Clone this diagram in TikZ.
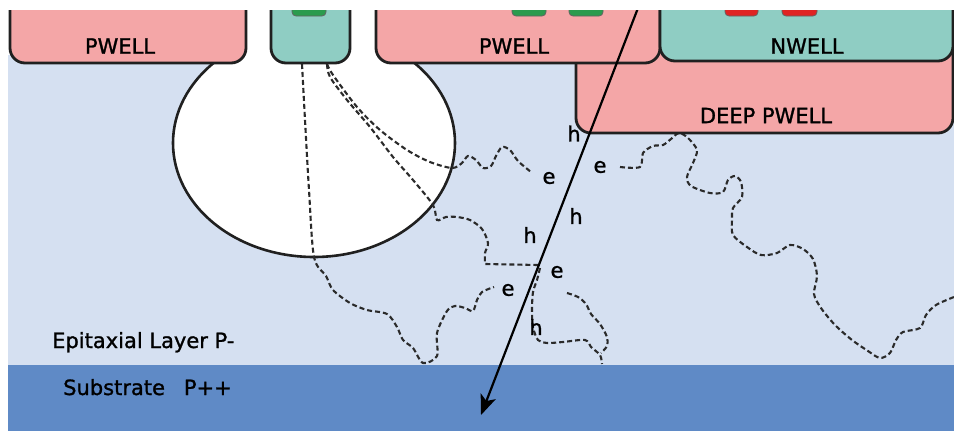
\documentclass[tikz,border=0pt]{standalone}
\usepackage{fontspec}
\setmainfont[FakeBold=1.2]{DejaVu Sans}
\usetikzlibrary{arrows.meta}

\definecolor{epiblue}{HTML}{D5E0F1}
\definecolor{subblue}{HTML}{5F8AC6}
\definecolor{wellpink}{HTML}{F4A6A7}
\definecolor{wellteal}{HTML}{8FCDC3}
\definecolor{contgreen}{HTML}{2B9B4E}
\definecolor{contred}{HTML}{DF2323}
\definecolor{edgegray}{HTML}{202020}
\definecolor{pathgray}{HTML}{2A2A2A}

\tikzset{
  well/.style={draw=edgegray, line width=2.8pt, rounded corners=15pt},
  contact/.style={draw=edgegray!70, line width=0.8pt, rounded corners=4pt},
  drift/.style={draw=pathgray, line width=2.1pt, dash pattern=on 5pt off 3pt},
  lbl/.style={inner sep=0pt, font=\fontsize{21}{25}\selectfont, text=black},
  carrier/.style={inner sep=0pt, font=\fontsize{21}{25}\selectfont, text=black},
}

\begin{document}
\begin{tikzpicture}[x=1pt, y=-1pt]
\useasboundingbox (0,0) rectangle (954,431);

\begin{scope}
\clip (0,10) rectangle (954,431);

% epitaxial layer and substrate
\fill[epiblue] (8,55) rectangle (954,365);
\fill[subblue] (8,365) rectangle (954,431);

% depletion region of the collecting diode
\draw[draw=edgegray, line width=2.6pt, fill=white] (314,143) ellipse [x radius=141, y radius=114];
\fill[white] (246,0) rectangle (376,63);

% charge drift / diffusion paths
\draw[drift] plot[smooth, tension=0.5] coordinates {
  (302,64) (305,120) (309,190) (314,257) (326,276) (333,290) (350,303)
  (367,310) (387,314) (397,327) (403,340) (413,348) (423,363) (437,356)
  (437,333) (447,311) (455,306) (465,308) (473,311) (477,300) (482,292) (494,287)};
\draw[drift] plot[smooth, tension=0.5] coordinates {
  (327,64) (333,75) (357,107) (380,130) (407,150) (430,162) (452,168)
  (462,163) (468,156) (476,160) (483,168) (491,166) (496,156) (502,147)
  (510,150) (518,161) (531,172)};
\draw[drift] plot[smooth, tension=0.5] coordinates {
  (327,64) (330,77) (347,100) (370,127) (393,157) (413,180) (433,205)
  (437,220) (446,217) (457,217) (470,220) (482,229) (488,243) (485,253) (485,264)}
  -- (538,265);
\draw[drift] plot[smooth, tension=0.5] coordinates {
  (620,167) (640,167) (643,153) (653,146) (663,145) (671,139) (679,133)
  (688,138) (697,150) (693,163) (687,177) (691,186) (710,193) (723,192)
  (728,180) (735,176) (741,182) (742,197) (733,208) (732,220) (733,235)
  (747,247) (761,255) (777,253) (790,245) (803,249) (813,259) (817,276)
  (814,294) (821,308) (835,325) (852,340) (868,351) (880,358) (890,353)
  (896,340) (903,332) (920,328) (926,315) (936,305) (954,297)};
\draw[drift] plot[smooth, tension=0.5] coordinates {
  (540,268) (537,280) (533,292) (532,310) (533,327) (538,340) (547,343)
  (563,342) (585,340) (591,347) (600,355) (602,364)};
\draw[drift] plot[smooth, tension=0.5] coordinates {
  (567,293) (578,297) (586,304) (591,314) (600,324) (607,337) (607,346) (601,353)};

% wells
\draw[well, fill=wellpink] (576,-20) rectangle (953,133);
\draw[well, fill=wellpink] (10,-20) rectangle (246,63);
\draw[well, fill=wellteal] (271,-20) rectangle (350,63);
\draw[well, fill=wellpink] (376,-20) rectangle (660,63);
\draw[well, fill=wellteal] (660,-20) rectangle (953,61);

% contacts
\draw[contact, fill=contgreen] (292,-5) rectangle (326,16);
\draw[contact, fill=contgreen] (512,-5) rectangle (546,16);
\draw[contact, fill=contgreen] (569,-5) rectangle (603,16);
\draw[contact, fill=contred] (725,-5) rectangle (758,16);
\draw[contact, fill=contred] (782,-5) rectangle (817,16);

% particle track
\coordinate (trackin) at (638,8);
\coordinate (trackout) at (481,415);
\draw[line width=2.2pt, black, -{Stealth[length=20pt, width=16pt, inset=5pt]}] (trackin) -- (trackout);
\end{scope}

% well and layer labels
\node[lbl] (pwl) at (120,46) {PWELL};
\node[lbl] (pwm) at (514,46) {PWELL};
\node[lbl] (nw) at (807,46) {NWELL};
\node[lbl] (dpw) at (766,115.5) {DEEP PWELL};
\node[lbl, anchor=base west] (epi) at (52,348) {Epitaxial Layer P-};
\node[lbl, anchor=base west] (sub) at (63,395) {Substrate\hspace{0.9em}P++};

% generated carriers
\node[carrier] (h1) at (574,133.5) {h};
\node[carrier] (e1) at (600,167) {e};
\node[carrier] (e2) at (549,178) {e};
\node[carrier] (h2) at (576,216) {h};
\node[carrier] (h3) at (530,235) {h};
\node[carrier] (e3) at (557,272) {e};
\node[carrier] (e4) at (508,290) {e};
\node[carrier] (h4) at (536,327) {h};
\end{tikzpicture}
\end{document}
